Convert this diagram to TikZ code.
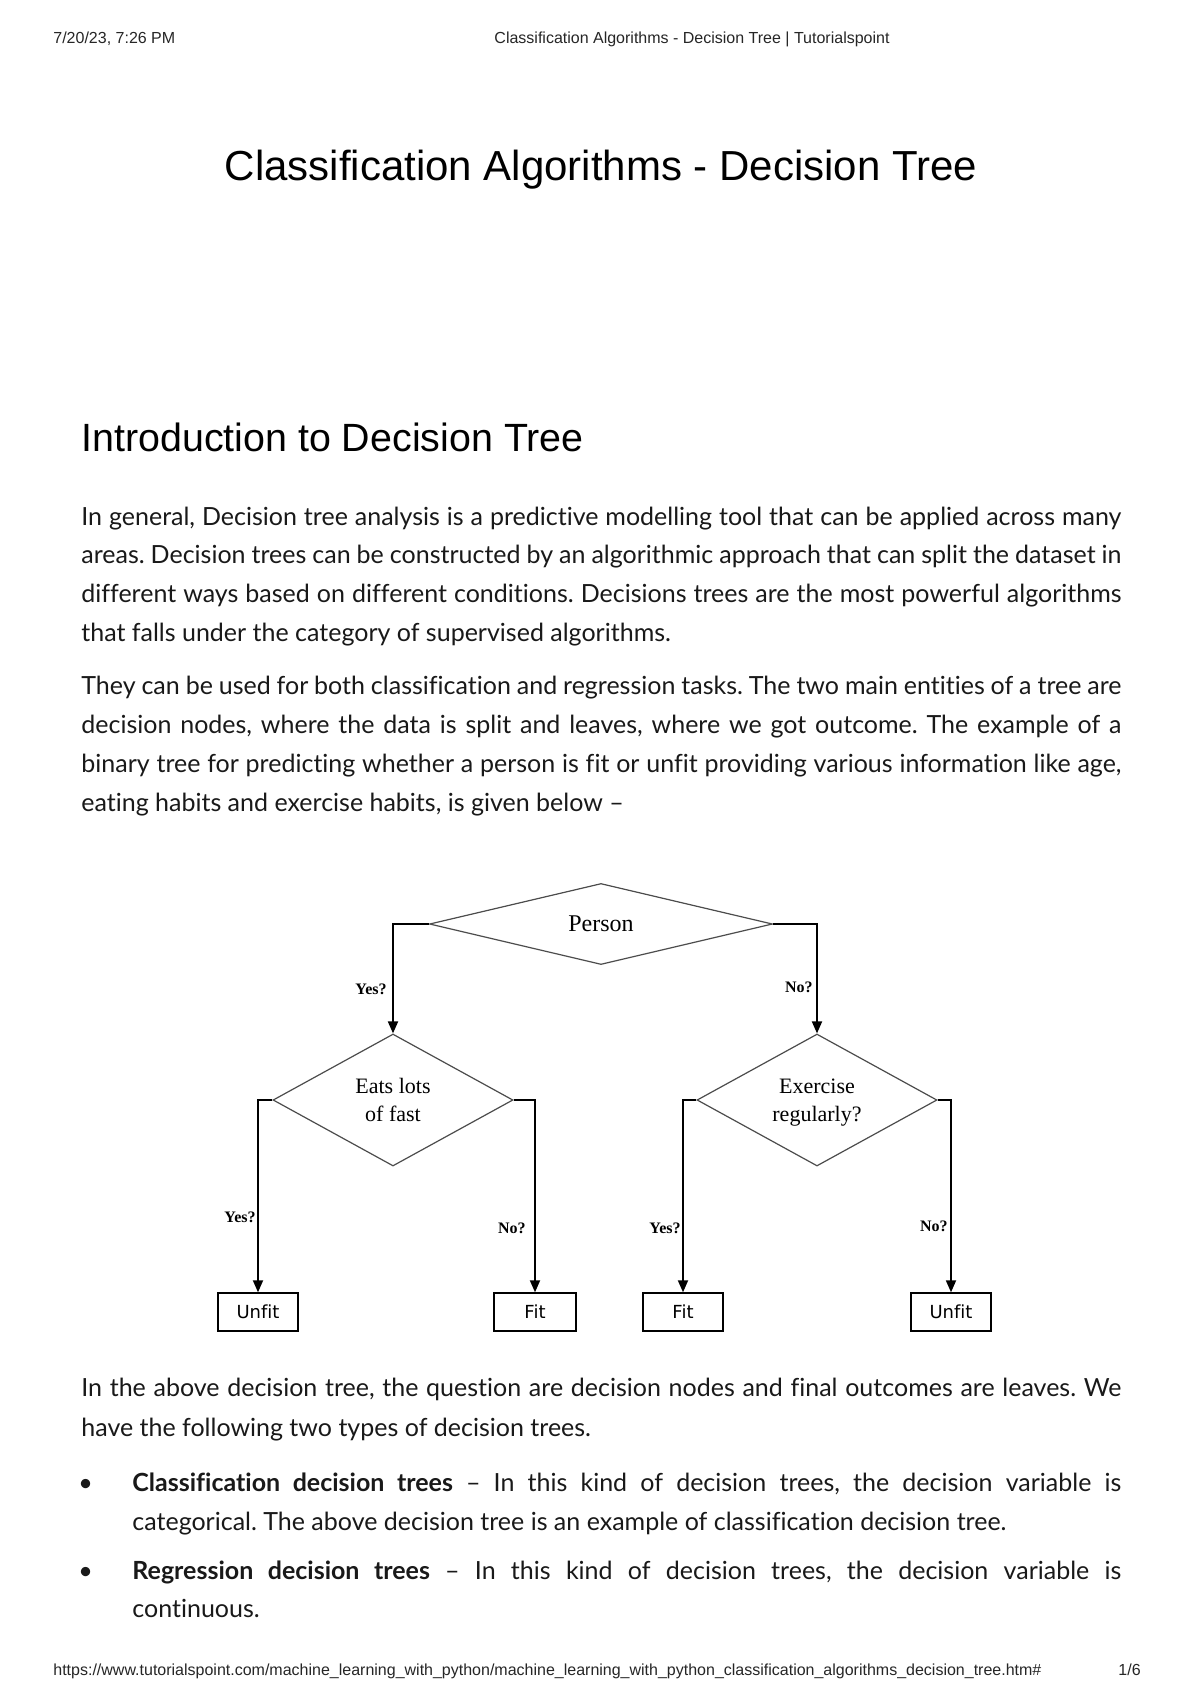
\documentclass[tikz,border=0pt]{standalone}
\usepackage{fontspec}
\setmainfont{Lato}[Ligatures=NoCommon]
\newfontfamily\arialf{Liberation Sans}
\newfontfamily\timesf{Liberation Serif}
\newfontfamily\boxf{DejaVu Sans}[Ligatures=NoCommon]
\usetikzlibrary{shapes.geometric,arrows.meta}
\newcommand\fullline[1]{\makebox[520pt][s]{#1}}
\newcommand\bulline[1]{\makebox[494.5pt][s]{#1}}
\frenchspacing
\begin{document}
\begin{tikzpicture}[x=0.5pt,y=-0.5pt,
  hdr/.style={font=\arialf\fontsize{8}{10}\selectfont, inner sep=0pt, text=black!85},
  body/.style={font=\fontsize{12.5}{14}\selectfont, inner sep=0pt, anchor=base west, text=black!90},
  dec/.style={diamond, draw=black!70, line width=0.6pt, inner sep=0pt, text depth=0pt, font=\timesf\fontsize{11}{14}\selectfont, align=center},
  leaf/.style={rectangle, draw, line width=0.7pt, minimum height=19pt, inner sep=0pt, font=\boxf\fontsize{9}{11}\selectfont},
  conn/.style={line width=0.9pt, -{Triangle[width=5pt,length=6pt]}},
  lbl/.style={font=\timesf\bfseries\fontsize{8}{10}\selectfont, inner sep=0pt, anchor=east}]
\fill[white] (0,0) rectangle (1200,1698);
\useasboundingbox (0,0) rectangle (1200,1698);

% header
\node[hdr, anchor=base west] (hd) at (53,43) {7/20/23, 7:26 PM};
\node[hdr, anchor=base] (ht) at (692,43) {Classification Algorithms - Decision Tree | Tutorialspoint};

% title and heading
\node[font=\arialf\fontsize{21}{24}\selectfont, inner sep=0pt, anchor=base] (title) at (601,180) {Classification Algorithms - Decision Tree};
\node[font=\arialf\fontsize{19.7}{22}\selectfont, inner sep=0pt, anchor=base west] (head) at (81,451) {Introduction to Decision Tree};

% paragraph 1
\node[body] (p1a) at (81,525) {\fullline{In general, Decision tree analysis is a predictive modelling tool that can be applied across many}};
\node[body] (p1b) at (81,563) {\fullline{areas. Decision trees can be constructed by an algorithmic approach that can split the dataset in}};
\node[body] (p1c) at (81,602) {\fullline{different ways based on different conditions. Decisions trees are the most powerful algorithms}};
\node[body] (p1d) at (81,641) {that falls under the category of supervised algorithms.};

% paragraph 2
\node[body] (p2a) at (81,694) {\fullline{They can be used for both classification and regression tasks. The two main entities of a tree are}};
\node[body] (p2b) at (81,733) {\fullline{decision nodes, where the data is split and leaves, where we got outcome. The example of a}};
\node[body] (p2c) at (81,772) {\fullline{binary tree for predicting whether a person is fit or unfit providing various information like age,}};
\node[body] (p2d) at (81,811) {eating habits and exercise habits, is given below –};

% diagram
\node[dec, minimum width=171.5pt, minimum height=39pt, font=\timesf\fontsize{12}{14}\selectfont] (P) at (601,924) {Person};
\node[dec, minimum width=120pt, minimum height=66pt] (L) at (393,1100) {Eats lots\\of fast};
\node[dec, minimum width=120pt, minimum height=66pt] (R) at (817,1100) {Exercise\\regularly?};
\node[leaf, minimum width=40pt] (U1) at (258,1312) {Unfit};
\node[leaf, minimum width=41pt] (F1) at (535,1312) {Fit};
\node[leaf, minimum width=40pt] (F2) at (683,1312) {Fit};
\node[leaf, minimum width=40pt] (U2) at (951,1312) {Unfit};

\draw[conn] (P.west) -| (L.north);
\draw[conn] (P.east) -| (R.north);
\draw[conn] (L.west) -| (U1.north);
\draw[conn] (L.east) -| (F1.north);
\draw[conn] (R.west) -| (F2.north);
\draw[conn] (R.east) -| (U2.north);

\node[lbl] (y1) at (387,989) {Yes?};
\node[lbl] (n1) at (813,987) {No?};
\node[lbl] (y2) at (256,1217) {Yes?};
\node[lbl] (n2) at (526,1228) {No?};
\node[lbl] (y3) at (681,1228) {Yes?};
\node[lbl] (n3) at (948,1226) {No?};

% after diagram
\node[body] (p3a) at (81,1396) {\fullline{In the above decision tree, the question are decision nodes and final outcomes are leaves. We}};
\node[body] (p3b) at (81,1436) {have the following two types of decision trees.};

\node[body] (b1) at (78,1491) {•};
\node[body] (b1a) at (132,1491) {\bulline{\textbf{Classification decision trees} – In this kind of decision trees, the decision variable is}};
\node[body] (b1b) at (132,1530) {categorical. The above decision tree is an example of classification decision tree.};
\node[body] (b2) at (78,1579) {•};
\node[body] (b2a) at (132,1579) {\bulline{\textbf{Regression decision trees} – In this kind of decision trees, the decision variable is}};
\node[body] (b2b) at (132,1617) {continuous.};

% footer
\node[hdr, anchor=base west] (url) at (53,1675) {https://www.tutorialspoint.com/machine\_learning\_with\_python/machine\_learning\_with\_python\_classification\_algorithms\_decision\_tree.htm\#};
\node[hdr, anchor=base west] (pg) at (1118,1675) {1/6};
\end{tikzpicture}
\end{document}
